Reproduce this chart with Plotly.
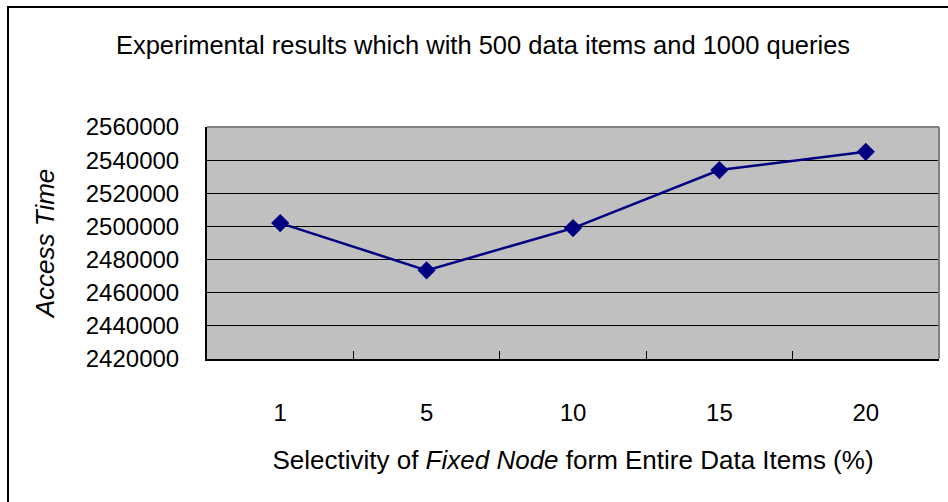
import plotly.graph_objects as go

# Selectivity categories and measured access time
selectivity = ["1", "5", "10", "15", "20"]
access_time = [2502000, 2473500, 2499000, 2534000, 2545000]

y_ticks = [2420000, 2440000, 2460000, 2480000, 2500000, 2520000, 2540000, 2560000]

FONT = "Liberation Sans, Arial, sans-serif"

W, H = 948, 502
L, R, T, B = 207, 9, 127, 143
pw, ph = W - L - R, H - T - B


def px_x(p):
    return (p - L) / pw


def px_y(p):
    return (H - B - p) / ph


fig = go.Figure()
fig.add_trace(go.Scatter(
    x=selectivity,
    y=access_time,
    mode="lines+markers",
    line=dict(color="#000080", width=2.5),
    marker=dict(symbol="diamond", size=14, color="#000080"),
    cliponaxis=False,
))

fig.update_layout(
    width=W, height=H,
    margin=dict(l=L, r=R, t=T, b=B),
    paper_bgcolor="white",
    plot_bgcolor="#C0C0C0",
    showlegend=False,
    font=dict(family=FONT, size=24, color="black"),
    title=dict(
        text="Experimental results which with 500 data items and 1000 queries",
        x=483 / W, xref="container", xanchor="center",
        y=1 - 45 / H, yref="container", yanchor="middle",
        font=dict(family=FONT, size=25.5),
    ),
    xaxis=dict(
        type="category",
        tickson="boundaries",
        ticks="inside", ticklen=8, tickcolor="black", tickwidth=1,
        showgrid=False,
        showline=True, linecolor="black", linewidth=2,
        ticklabelstandoff=31,
        tickfont=dict(size=24),
        title=dict(
            text="Selectivity of <i>Fixed Node</i> form Entire Data Items (%)",
            standoff=26, font=dict(size=26),
        ),
        range=[-0.5, 4.5],
    ),
    yaxis=dict(
        range=[2420000, 2560000],
        tickvals=y_ticks,
        ticktext=[str(v) for v in y_ticks],
        showgrid=True, gridcolor="black", gridwidth=1,
        ticks="inside", ticklen=5, tickcolor="black",
        showline=True, linecolor="black", linewidth=2,
        zeroline=False,
        ticklabelstandoff=21,
        tickfont=dict(size=24),
        title=dict(text="<i>Access Time</i>", standoff=24, font=dict(size=26)),
    ),
    shapes=[
        # plot area top and right edges
        dict(type="line", xref="paper", yref="paper", x0=0, x1=1, y0=1, y1=1,
             line=dict(color="#808080", width=2)),
        dict(type="line", xref="paper", yref="paper", x0=1, x1=1, y0=0, y1=1,
             line=dict(color="#808080", width=2)),
        # chart frame
        dict(type="rect", xref="paper", yref="paper",
             x0=px_x(8), x1=px_x(W + 20), y0=px_y(H + 20), y1=px_y(7),
             line=dict(color="black", width=2), layer="above"),
    ],
)

fig.write_html("out.html")
